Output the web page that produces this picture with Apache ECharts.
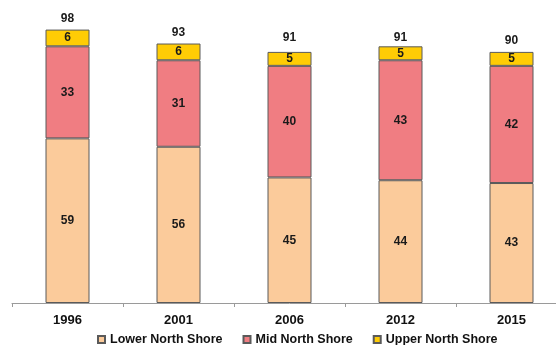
<!DOCTYPE html>
<html>
<head>
<meta charset="utf-8">
<script src="https://cdn.jsdelivr.net/npm/echarts@6/dist/echarts.min.js"></script>
<style>
  html, body { margin: 0; padding: 0; background: #fff; overflow: hidden; }
  /* the category axis runs past the right edge of the visible area */
  #chart { width: 567px; height: 345px; }
</style>
</head>
<body>
<div id="chart"></div>
<script>
// Census years on the category axis
const years = ['1996', '2001', '2006', '2012', '2015'];

// Stacked segments per year
const lowerNorthShore = [59, 56, 45, 44, 43];
const midNorthShore = [33, 31, 40, 43, 42];
const upperNorthShore = [6, 6, 5, 5, 5];

// Published totals shown above each column
const totals = [98, 93, 91, 91, 90];

const seriesNames = ['Lower North Shore', 'Mid North Shore', 'Upper North Shore'];

const FONT = 'Liberation Sans, Arial, sans-serif';
const labelText = { show: true, position: 'inside', color: '#1a1a1a', fontWeight: 'bold', fontSize: 12, fontFamily: FONT };

function stackSeries(name, data, color) {
  return {
    name: name,
    type: 'bar',
    stack: 'region',
    data: data,
    barWidth: 44,
    itemStyle: { color: color, borderColor: '#5a5a5a', borderWidth: 1 },
    label: labelText,
    emphasis: { disabled: true }
  };
}

const chart = echarts.init(document.getElementById('chart'), null, { renderer: 'canvas' });

chart.setOption({
  animation: false,
  backgroundColor: '#ffffff',
  grid: { left: 12, top: 24, right: 0, bottom: 42, containLabel: false },
  legend: {
    data: seriesNames,
    left: 92,
    top: 328,
    itemWidth: 7,
    itemHeight: 7,
    itemGap: 20,
    icon: 'rect',
    textStyle: { color: '#111', fontWeight: 'bold', fontSize: 12.5, fontFamily: FONT }
  },
  xAxis: {
    type: 'category',
    data: years,
    boundaryGap: true,
    axisLine: { show: true, lineStyle: { color: '#9a9a9a', width: 1 } },
    axisTick: { show: true, length: 4, alignWithLabel: false, lineStyle: { color: '#9a9a9a' } },
    axisLabel: { color: '#111', fontWeight: 'bold', fontSize: 13, fontFamily: FONT, margin: 11 }
  },
  yAxis: {
    type: 'value',
    min: 0,
    max: 100,
    show: false,
    splitLine: { show: false }
  },
  series: [
    stackSeries(seriesNames[0], lowerNorthShore, '#FBCB9B'),
    stackSeries(seriesNames[1], midNorthShore, '#F07D82'),
    stackSeries(seriesNames[2], upperNorthShore, '#FFCC05'),
    {
      name: 'Total',
      type: 'scatter',
      data: totals,
      symbolSize: 0,
      silent: true,
      itemStyle: { opacity: 1 },
      label: {
        show: true,
        position: 'top',
        distance: 5,
        color: '#1a1a1a',
        fontWeight: 'bold',
        fontSize: 12,
        fontFamily: FONT
      }
    }
  ]
});
</script>
</body>
</html>
